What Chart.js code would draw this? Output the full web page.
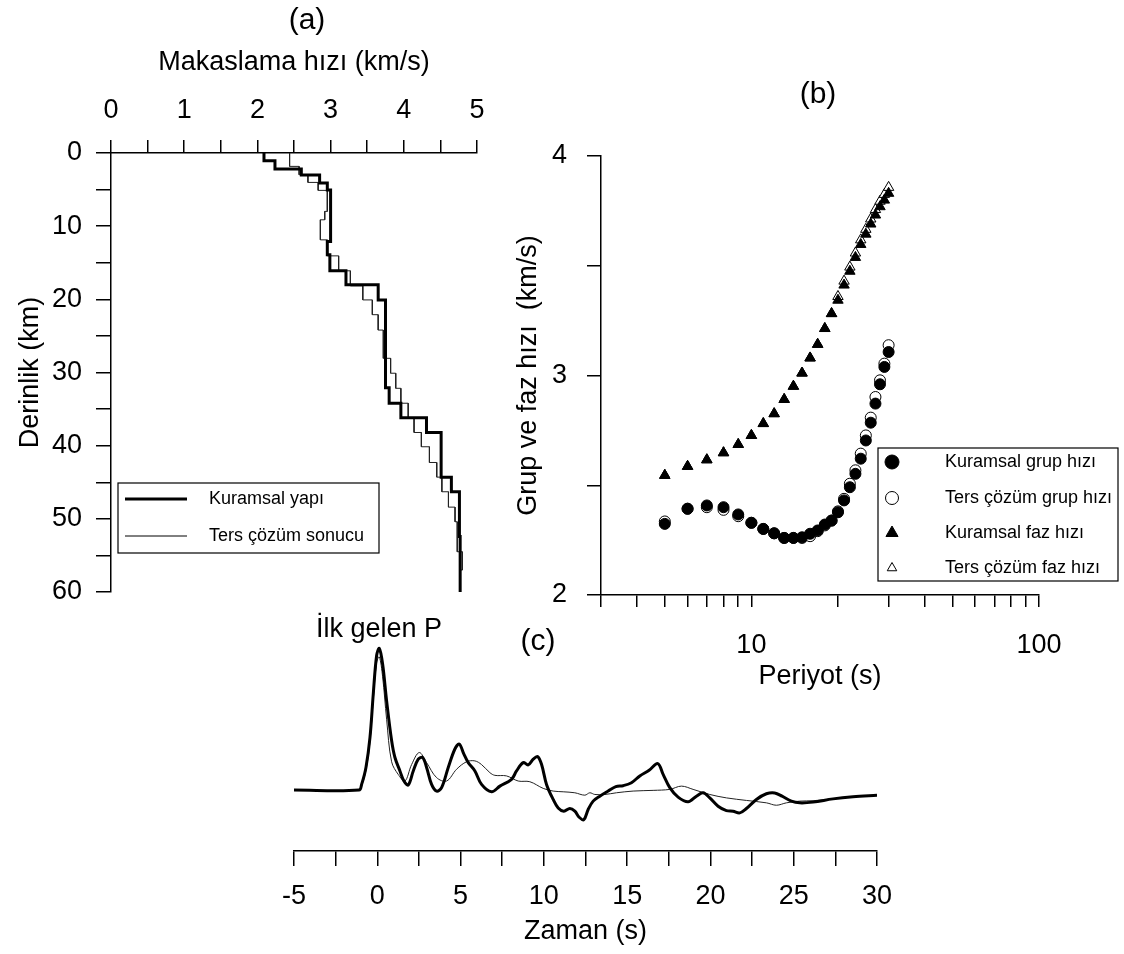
<!DOCTYPE html>
<html>
<head>
<meta charset="utf-8">
<script src="https://cdn.jsdelivr.net/npm/chart.js@4.4.1/dist/chart.umd.min.js"></script>
<style>
html,body{margin:0;padding:0;background:#fff;}
#wrap{position:relative;width:1124px;height:954px;overflow:hidden;background:#fff;}
#wrap canvas{position:absolute;left:0;top:0;}
</style>
</head>
<body>
<div id="wrap">
  <canvas id="chartA" width="1124" height="954"></canvas>
  <canvas id="chartB" width="1124" height="954"></canvas>
  <canvas id="chartC" width="1124" height="954"></canvas>
</div>
<script>
const FONT='"Liberation Sans", Arial, Helvetica, sans-serif';
Chart.defaults.font.family=FONT;
Chart.defaults.color='#000';

// ===== (a) shear velocity profiles: layer tops (km) and velocities (km/s) =====
const MAX_DEPTH=60;
const modelTop=[0,1.05,2.2,3.0,4.1,5.05,12.1,13.9,16.1,18.0,20.1,32.1,34.2,36.2,38.2,44.3,46.3,52.4];
const modelVs =[2.09,2.24,2.60,2.85,2.955,3.0,2.955,2.99,3.21,3.65,3.75,3.80,3.96,4.31,4.51,4.65,4.76,4.77];
const invTop=[0,1.83,2.97,4.02,5.11,7.98,9.13,11.87,14.06,16.1,18.16,20.08,22.1,24.2,28.06,30.1,32.16,34.2,36.27,38.2,40.15,42.3,44.3,46.3,48.4,50.4,54.5,57.0];
const invVs =[2.44,2.57,2.69,2.83,2.955,2.92,2.86,2.955,3.11,3.27,3.44,3.57,3.65,3.72,3.82,3.89,3.96,4.06,4.14,4.24,4.35,4.45,4.52,4.61,4.70,4.73,4.80,4.77];

// ===== (b) dispersion curves =====
const periods=[5,6,7,8,9,10,11,12,13,14,15,16,17,18,19,20,21,22,23,24,25,26,27,28,29,30];
const grpModel=[2.324,2.393,2.408,2.400,2.367,2.329,2.301,2.281,2.260,2.260,2.263,2.279,2.294,2.321,2.339,2.377,2.431,2.491,2.552,2.621,2.704,2.785,2.872,2.960,3.039,3.107];
const grpInv  =[2.335,2.393,2.400,2.388,2.359,2.329,2.301,2.281,2.260,2.260,2.260,2.268,2.291,2.317,2.339,2.381,2.438,2.507,2.568,2.644,2.727,2.808,2.902,2.978,3.054,3.138];
const phModel =[2.545,2.586,2.616,2.648,2.686,2.727,2.781,2.826,2.891,2.951,3.011,3.080,3.142,3.214,3.282,3.343,3.412,3.475,3.538,3.597,3.644,3.690,3.731,3.769,3.799,3.830];
const phInv   =[2.545,2.586,2.616,2.648,2.686,2.727,2.781,2.826,2.891,2.951,3.011,3.080,3.142,3.214,3.282,3.360,3.430,3.494,3.558,3.618,3.666,3.713,3.756,3.794,3.825,3.857];
const periodTicks=[3,4,5,6,7,8,9,10,20,30,40,50,60,70,80,90,100];

// ===== (c) waveforms (time s, normalised amplitude) =====
const thickT=[-5,-1.1,-0.94,-0.68,-0.44,-0.24,-0.04,0.12,0.32,0.56,0.86,1.06,1.36,1.6,1.86,2.16,2.46,2.72,2.96,3.26,3.56,3.86,4.26,4.66,4.92,5.2,5.46,5.86,6.26,6.86,7.36,8.06,8.36,8.76,9.06,9.36,9.62,9.86,10.16,10.56,10.86,11.2,11.56,11.86,12.12,12.4,12.66,12.96,13.36,13.86,14.32,14.76,15.26,15.76,16.32,16.84,17.16,17.56,18.06,18.66,19.16,19.56,19.96,20.46,20.96,21.36,21.76,22.16,22.76,23.36,23.86,24.3,24.86,25.36,26.16,27.36,28.56,30];
const thickA=[0,0,0.04,0.16,0.37,0.68,0.95,1.0,0.89,0.63,0.35,0.23,0.135,0.064,0.036,0.135,0.218,0.23,0.16,0.04,-0.007,0.017,0.16,0.29,0.325,0.254,0.194,0.135,0.04,-0.012,0.028,0.076,0.135,0.194,0.178,0.218,0.237,0.182,0.04,-0.066,-0.126,-0.149,-0.13,-0.149,-0.192,-0.209,-0.137,-0.078,-0.043,-0.007,0.024,0.031,0.052,0.1,0.14,0.187,0.111,0.017,-0.05,-0.083,-0.043,-0.019,-0.055,-0.114,-0.145,-0.149,-0.161,-0.13,-0.066,-0.026,-0.02,-0.043,-0.078,-0.09,-0.085,-0.062,-0.047,-0.036];
const thinT=[-5,-1.1,-0.94,-0.68,-0.44,-0.24,-0.04,0.12,0.32,0.56,0.86,1.26,1.66,2.06,2.52,2.96,3.56,4.16,4.76,5.36,5.86,6.26,6.76,7.06,7.76,8.46,9.16,9.96,10.56,11.16,11.86,12.46,12.76,13.06,13.66,14.36,15.36,16.56,17.56,18.26,18.96,19.96,20.96,22.16,23.36,23.96,24.56,25.36,26.16,27.36,28.56,30];
const thinA=[0,0,0.03,0.14,0.34,0.64,0.9,0.94,0.8,0.5,0.2,0.11,0.064,0.18,0.265,0.194,0.088,0.064,0.147,0.2,0.206,0.18,0.123,0.104,0.1,0.064,0.059,0.012,-0.007,-0.012,-0.019,-0.036,-0.019,-0.031,-0.031,-0.019,-0.007,-0.002,0.005,0.028,0.005,-0.031,-0.055,-0.073,-0.09,-0.107,-0.09,-0.078,-0.075,-0.062,-0.047,-0.036];

const W=1124,H=954;
const AXIS={display:true,color:'#000',width:1.5};
const GRID={drawOnChartArea:false,color:'#000',tickColor:'#000',lineWidth:1.5};
const BASE={responsive:false,animation:false,devicePixelRatio:1,
  plugins:{legend:{display:false},tooltip:{enabled:false}}};

function stepPath(tops,vs){
  const pts=[];
  tops.forEach((t,i)=>{
    const b=i<tops.length-1?tops[i+1]:MAX_DEPTH;
    pts.push({x:vs[i],y:t},{x:vs[i],y:b});
  });
  return pts;
}
const xy=(xs,ys)=>xs.map((x,i)=>({x,y:ys[i]}));

function text(ctx,str,x,y,size,align){
  ctx.save();
  ctx.fillStyle='#000';
  ctx.font=`${size}px ${FONT}`;
  ctx.textAlign=align||'center';
  ctx.textBaseline='middle';
  ctx.fillText(str,x,y);
  ctx.restore();
}

// ----- (a) legend + panel label -----
const legendA={
  id:'legendA',
  afterDraw(chart){
    const ctx=chart.ctx;
    text(ctx,'(a)',307,21,30);
    ctx.save();
    ctx.strokeStyle='#000';ctx.lineWidth=1.2;
    ctx.strokeRect(118,483,261,70);
    chart.data.datasets.forEach((ds,i)=>{
      const y=499+i*37;
      ctx.strokeStyle='#000';ctx.lineWidth=ds.borderWidth;
      ctx.beginPath();ctx.moveTo(125,y);ctx.lineTo(187,y);ctx.stroke();
      text(ctx,ds.label,209,y,18,'left');
    });
    ctx.restore();
  }
};

new Chart(document.getElementById('chartA'),{
  type:'scatter',
  data:{datasets:[
    {label:'Kuramsal yapı',data:stepPath(modelTop,modelVs),showLine:true,borderColor:'#000',borderWidth:3,pointRadius:0,tension:0,borderJoinStyle:'miter'},
    {label:'Ters çözüm sonucu',data:stepPath(invTop,invVs),showLine:true,borderColor:'#222',borderWidth:1,pointRadius:0,tension:0,borderJoinStyle:'miter'}
  ]},
  options:{...BASE,
    layout:{padding:{left:0,top:0,right:W-477,bottom:H-592}},
    scales:{
      x:{type:'linear',position:'top',min:0,max:5,
        afterFit:s=>{s.height=153;},
        ticks:{stepSize:0.5,autoSkip:false,maxRotation:0,font:{size:27},padding:13,
          callback:v=>Number.isInteger(v)?String(v):''},
        grid:{...GRID,tickLength:13},border:AXIS,
        title:{display:true,text:'Makaslama hızı (km/s)',font:{size:27},padding:{top:46,bottom:0}}},
      y:{type:'linear',reverse:true,min:0,max:60,
        afterFit:s=>{s.width=111;},
        ticks:{stepSize:5,autoSkip:false,font:{size:27},padding:14,
          callback:v=>v%10===0?String(v):''},
        grid:{...GRID,tickLength:15},border:AXIS,
        title:{display:true,text:'Derinlik (km)',font:{size:27},padding:{top:14,bottom:0}}}
    }
  },
  plugins:[legendA]
});

// ----- (b) legend + panel label -----
const legendB={
  id:'legendB',
  afterDraw(chart){
    const ctx=chart.ctx;
    text(ctx,'(b)',818,95,30);
    ctx.save();
    ctx.strokeStyle='#000';ctx.lineWidth=1.2;
    ctx.strokeRect(878,448,240,133);
    const rows=[462,498,533,568];
    const sizes=[7,6.5,7,5.5];
    chart.data.datasets.forEach((ds,i)=>{
      ctx.fillStyle=ds.backgroundColor;ctx.strokeStyle='#000';ctx.lineWidth=1;
      Chart.helpers.drawPoint(ctx,{pointStyle:ds.pointStyle,radius:sizes[i],rotation:0,borderWidth:1},892,rows[i]);
      text(ctx,ds.label,945,rows[i],18,'left');
    });
    ctx.restore();
  }
};

new Chart(document.getElementById('chartB'),{
  type:'scatter',
  data:{datasets:[
    {label:'Kuramsal grup hızı',data:xy(periods,grpModel),pointStyle:'circle',pointRadius:5.5,backgroundColor:'#000',borderColor:'#000',borderWidth:1},
    {label:'Ters çözüm grup hızı',data:xy(periods,grpInv),pointStyle:'circle',pointRadius:5.5,backgroundColor:'#fff',borderColor:'#000',borderWidth:1},
    {label:'Kuramsal faz hızı',data:xy(periods,phModel),pointStyle:'triangle',pointRadius:6,backgroundColor:'#000',borderColor:'#000',borderWidth:1},
    {label:'Ters çözüm faz hızı',data:xy(periods,phInv),pointStyle:'triangle',pointRadius:6,backgroundColor:'#fff',borderColor:'#000',borderWidth:1}
  ]},
  options:{...BASE,
    layout:{padding:{left:500,top:156,right:W-1039,bottom:H-700}},
    scales:{
      x:{type:'logarithmic',position:'bottom',min:3,max:100,
        afterBuildTicks:s=>{s.ticks=periodTicks.map(v=>({value:v}));},
        afterFit:s=>{s.height=105;},
        ticks:{autoSkip:false,maxRotation:0,font:{size:27},padding:22,
          callback:v=>(v===10||v===100)?String(v):''},
        grid:{...GRID,tickLength:12},border:AXIS,
        title:{display:true,text:'Periyot (s)',font:{size:27},padding:{top:0,bottom:7}}},
      y:{type:'linear',min:2,max:4,
        afterFit:s=>{s.width=101;},
        ticks:{stepSize:0.5,autoSkip:false,font:{size:27},padding:20,
          callback:v=>Number.isInteger(v)?String(v):''},
        grid:{...GRID,tickLength:14},border:AXIS,
        title:{display:true,text:'Grup ve faz hızı  (km/s)',font:{size:27},padding:{top:12,bottom:0}}}
    }
  },
  plugins:[legendB]
});

// ----- (c) labels -----
const labelsC={
  id:'labelsC',
  afterDraw(chart){
    const ctx=chart.ctx;
    text(ctx,'(c)',538,642,30);
    text(ctx,'İlk gelen P',379,630,27);
  }
};

new Chart(document.getElementById('chartC'),{
  type:'scatter',
  data:{datasets:[
    {label:'Kuramsal',data:xy(thickT,thickA),showLine:true,borderColor:'#000',borderWidth:3,pointRadius:0,tension:0.35},
    {label:'Ters çözüm',data:xy(thinT,thinA),showLine:true,borderColor:'#222',borderWidth:1,pointRadius:0,tension:0.35}
  ]},
  options:{...BASE,
    layout:{padding:{left:294,top:630,right:W-877,bottom:0}},
    scales:{
      x:{type:'linear',position:'bottom',min:-5,max:30,
        afterFit:s=>{s.height=103;},
        ticks:{stepSize:2.5,autoSkip:false,maxRotation:0,font:{size:27},padding:14,
          callback:v=>v%5===0?String(v):''},
        grid:{...GRID,tickLength:15},border:AXIS,
        title:{display:true,text:'Zaman (s)',font:{size:27},padding:{top:0,bottom:6}}},
      y:{display:false,min:-0.43,max:1.13}
    }
  },
  plugins:[labelsC]
});
</script>
</body>
</html>
